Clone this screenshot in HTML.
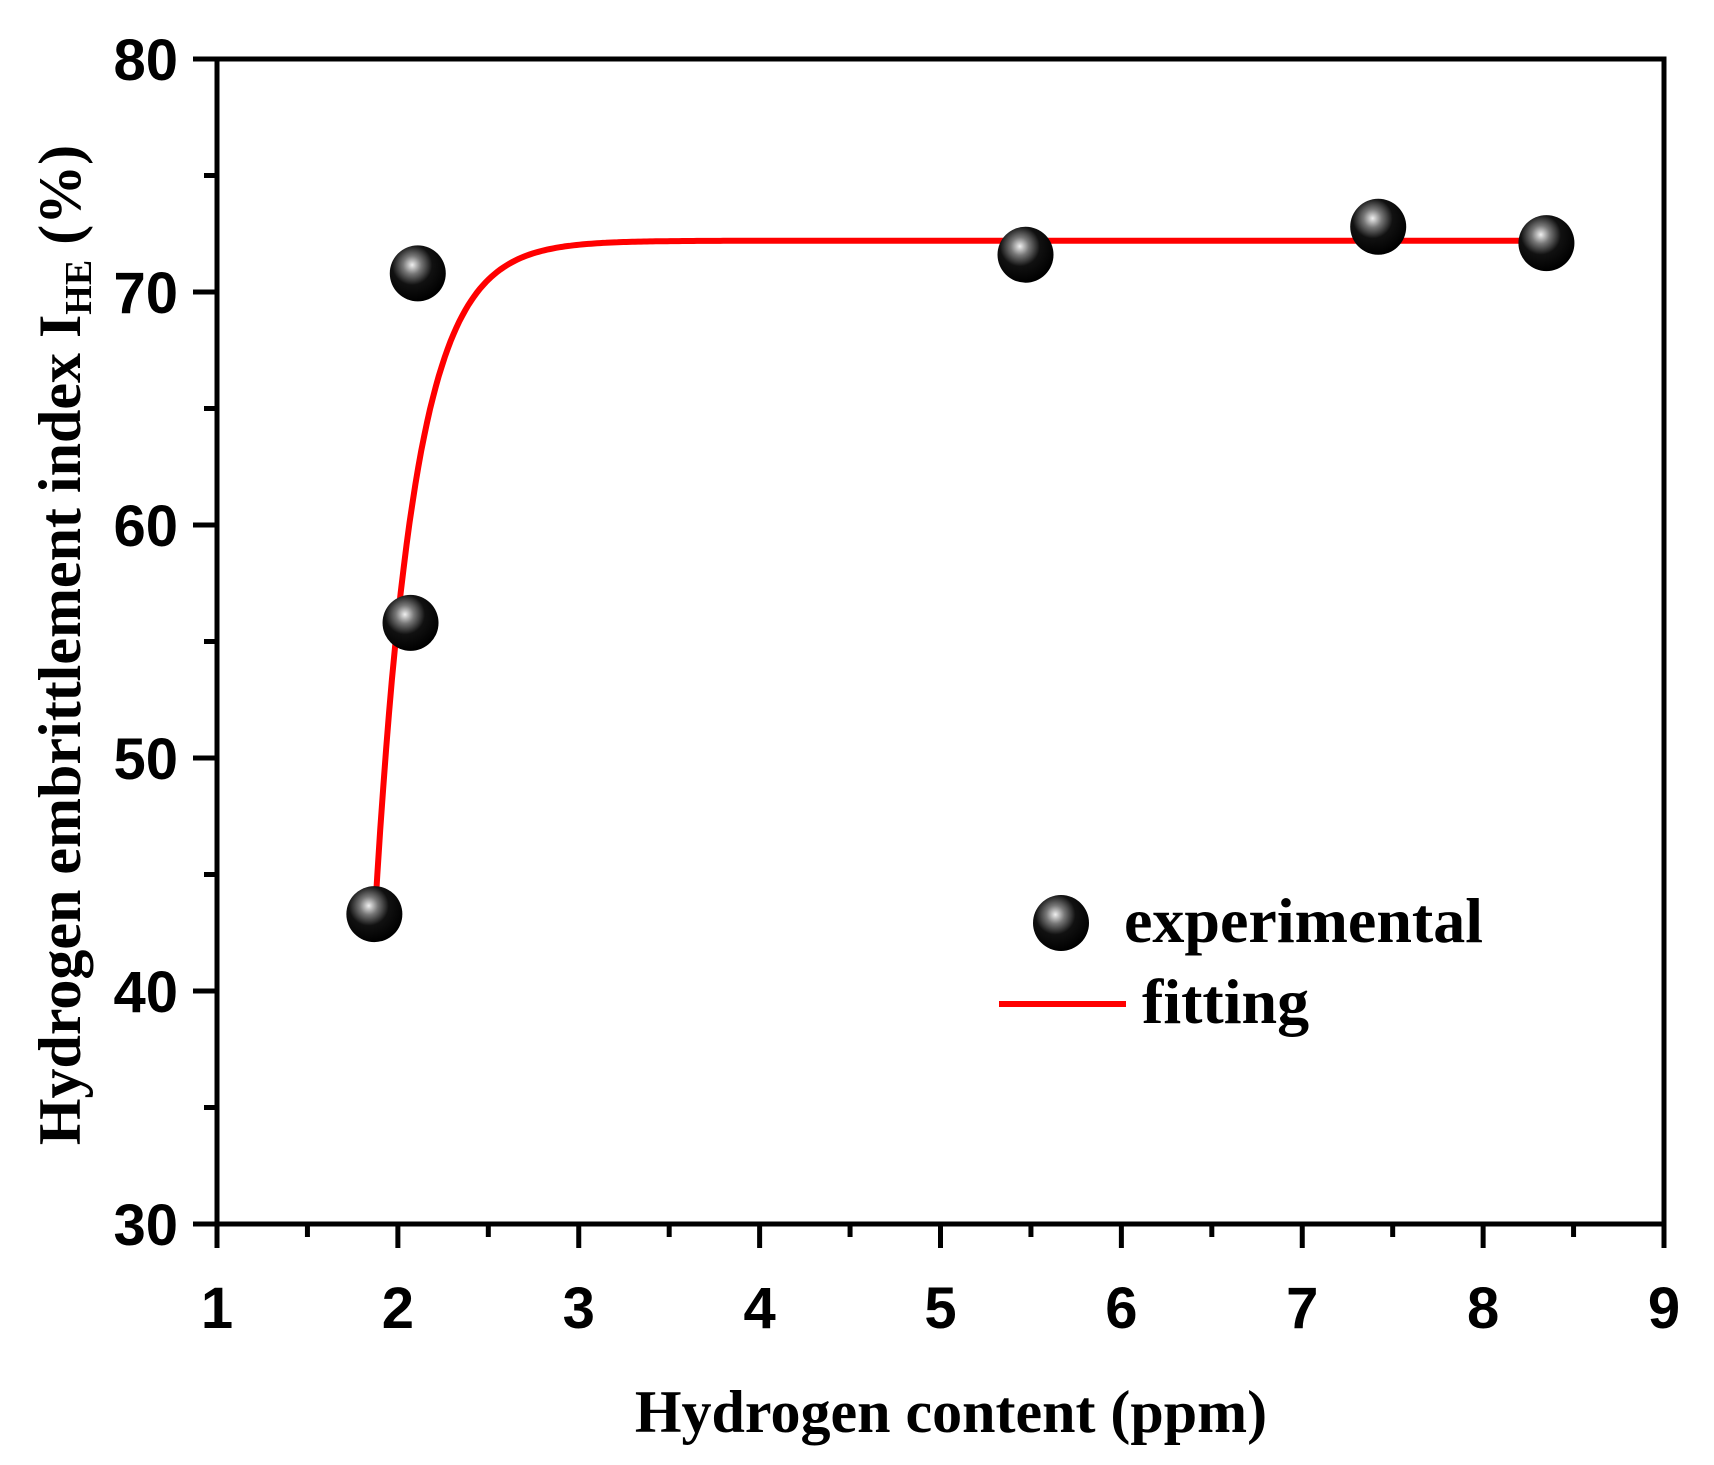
<!DOCTYPE html>
<html><head><meta charset="utf-8"><style>
html,body{margin:0;padding:0;background:#fff;}
svg{display:block;}
.tk{font-family:"Liberation Sans",sans-serif;font-weight:bold;font-size:58px;fill:#000;}
.ttl{font-family:"Liberation Serif",serif;font-weight:bold;font-size:60px;fill:#000;}
.lg{font-family:"Liberation Serif",serif;font-weight:bold;font-size:64px;fill:#000;}
</style></head><body>
<svg id="chart" width="1714" height="1465" viewBox="0 0 1714 1465" xmlns="http://www.w3.org/2000/svg">
<defs>
<radialGradient id="ball" cx="0.4" cy="0.35" r="0.65">
<stop offset="0" stop-color="#f0f0f0"/><stop offset="0.25" stop-color="#777"/><stop offset="0.55" stop-color="#111"/><stop offset="1" stop-color="#000"/>
</radialGradient>
</defs>
<g id="axes"></g>
<g id="marks"></g>
<text class="ttl" x="951" y="1432" text-anchor="middle">Hydrogen content (ppm)</text>
<text class="ttl" transform="translate(80,645) rotate(-90)" text-anchor="middle">Hydrogen embrittlement index I<tspan font-size="38" dy="11">HE</tspan><tspan dy="-11"> (%)</tspan></text>
<g>
<circle cx="1061" cy="923" r="28" fill="url(#ball)"/>
<text class="lg" x="1124" y="942">experimental</text>
<line x1="999" y1="1004" x2="1126" y2="1004" stroke="#f00" stroke-width="6"/>
<text class="lg" x="1142" y="1023">fitting</text>
</g>
</svg>
<script>
const xTicks=[1,2,3,4,5,6,7,8,9];
const yTicks=[30,40,50,60,70,80];
const expX=[1.87,2.07,2.11,5.47,7.42,8.35];
const expY=[43.3,55.8,70.8,71.6,72.8,72.1];
const fitPlateau=[72.2];
const fitAmp=[29.3];
const fitX0=[1.87];
const fitTau=[0.22];
const fitRange=[1.87,8.35];

const X0=217,X1=1664,Y0=1224,Y1=59;
const sx=v=>X0+(v-1)/(9-1)*(X1-X0);
const sy=v=>Y0-(v-30)/(80-30)*(Y0-Y1);
const NS='http://www.w3.org/2000/svg';
const ax=document.getElementById('axes'),mk=document.getElementById('marks');
function el(t,a,p){const e=document.createElementNS(NS,t);for(const k in a)e.setAttribute(k,a[k]);p.appendChild(e);return e;}

const frame=el('rect',{x:X0,y:Y1,width:X1-X0,height:Y0-Y1,fill:'none',stroke:'#000','stroke-width':5},ax);


xTicks.forEach((v,i)=>{
  const l=el('line',{x1:sx(v),x2:sx(v),y1:Y0,y2:Y0+24,stroke:'#000','stroke-width':5},ax);
  
  
  const t=el('text',{x:sx(v),y:1328,'text-anchor':'middle',class:'tk'},ax);
  t.textContent=v;
  
  
  if(i<xTicks.length-1){
    const m=el('line',{x1:sx(v+0.5),x2:sx(v+0.5),y1:Y0,y2:Y0+13,stroke:'#000','stroke-width':5},ax);
    
    
  }
});
yTicks.forEach((v,i)=>{
  const l=el('line',{x1:X0-24,x2:X0,y1:sy(v),y2:sy(v),stroke:'#000','stroke-width':5},ax);
  
  
  const t=el('text',{x:178,y:sy(v)+21,'text-anchor':'end',class:'tk'},ax);
  t.textContent=v;
  
  
  if(i<yTicks.length-1){
    const m=el('line',{x1:X0-13,x2:X0,y1:sy(v+5),y2:sy(v+5),stroke:'#000','stroke-width':5},ax);
    
    
  }
});
let d='';
for(let k=0;k<=400;k++){
  const x=fitRange[0]+(fitRange[1]-fitRange[0])*k/400;
  const y=fitPlateau[0]-fitAmp[0]*Math.exp(-(x-fitX0[0])/fitTau[0]);
  d+=(k?'L':'M')+sx(x).toFixed(1)+','+sy(y).toFixed(1);
}
const fp=el('path',{d:d,fill:'none',stroke:'#f00','stroke-width':6},mk);


expX.forEach((x,i)=>{
  const c=el('circle',{cx:sx(x),cy:sy(expY[i]),r:28,fill:'url(#ball)'},mk);
  
  
});
</script>
</body></html>
